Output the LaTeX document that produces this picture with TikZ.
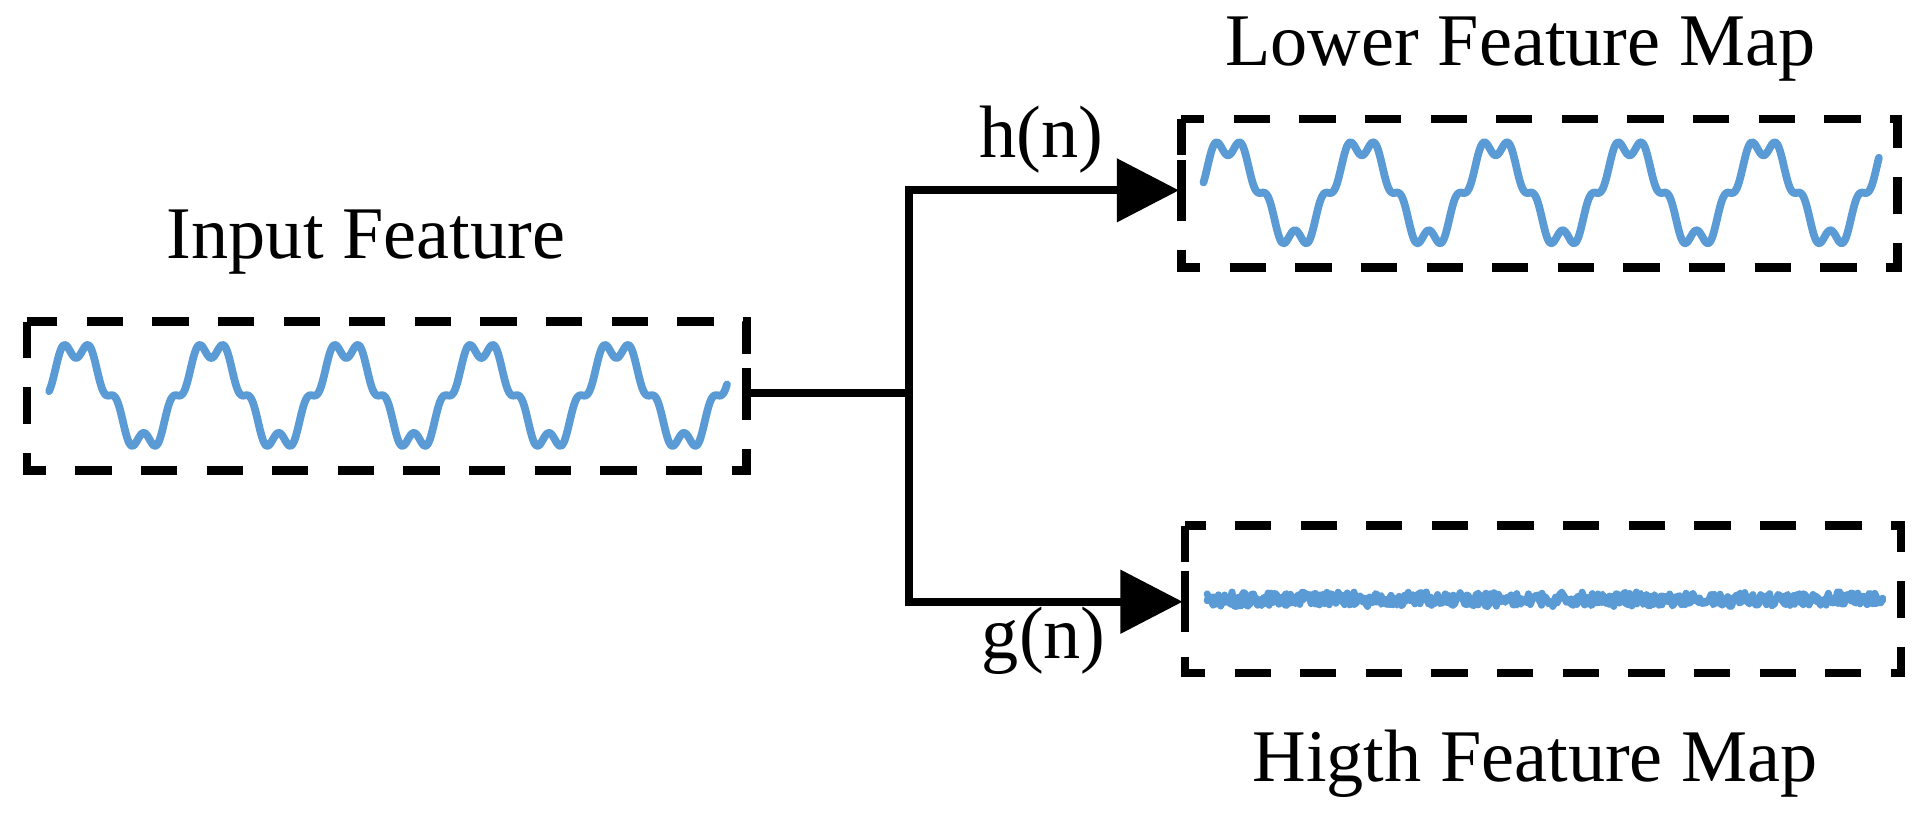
\documentclass[tikz,border=0pt]{standalone}
\usepackage{fontspec}
\setmainfont{Liberation Serif}
\usetikzlibrary{arrows.meta}
\begin{document}
\begin{tikzpicture}[x=0.025cm,y=-0.025cm,
  box/.style={draw=black,line width=5pt,dash pattern=on 21pt off 17pt,inner sep=0pt,minimum width=0pt},
  wave/.style={draw={rgb,255:red,91;green,155;blue,213},line width=4.5pt,line join=round,line cap=round},
  conn/.style={line width=4.5pt},
  lbl/.style={font=\fontsize{43}{49}\selectfont,inner sep=0pt}]
\useasboundingbox (0,0) rectangle (1570,663);
\draw[box] (22,262) rectangle (608,383);
\draw[box] (962,97) rectangle (1545,218);
\draw[box] (965,428) rectangle (1548,548);
\coordinate (inE) at (608,320);
\coordinate (lowW) at (960,155);
\coordinate (highW) at (963,490);
\coordinate (split) at (740,320);
\draw[line width=5pt] (608,300) -- (608,340);
\draw[line width=5pt] (962,130) -- (962,180);
\draw[line width=5pt] (965,465) -- (965,515);
\draw[conn] (inE) -- (split);
\draw[conn,line join=miter,-{Triangle[length=36pt,width=36pt]}] (split) |- (lowW);
\draw[conn,line join=miter,-{Triangle[length=36pt,width=36pt]}] (split) |- (highW);
\node[lbl] (title1) at (298,197) {Input Feature};
\node[lbl] (title2) at (1238,40) {Lower Feature Map};
\node[lbl] (title3) at (1250,622) {Higth Feature Map};
\node[lbl] (h) at (848,114) {h(n)};
\node[lbl] (g) at (850,522) {g(n)};
\draw[wave] plot[domain=40:592,samples=400,smooth] (\x,{322-39*(sin((\x-62)/110*360+90)-0.22*sin(5*((\x-62)/110*360+90)))});
\draw[wave] plot[domain=980:1530,samples=400,smooth] (\x,{157-39*(sin((\x-1000)/109*360+90)-0.22*sin(5*((\x-1000)/109*360+90)))});
\pgfmathsetseed{7}
\draw[wave,line width=4pt] plot[domain=983:1533,samples=350] (\x,{488+5*rand});
\draw[wave,line width=4pt] plot[domain=983:1533,samples=300] (\x,{488+6*rand});
\end{tikzpicture}
\end{document}
